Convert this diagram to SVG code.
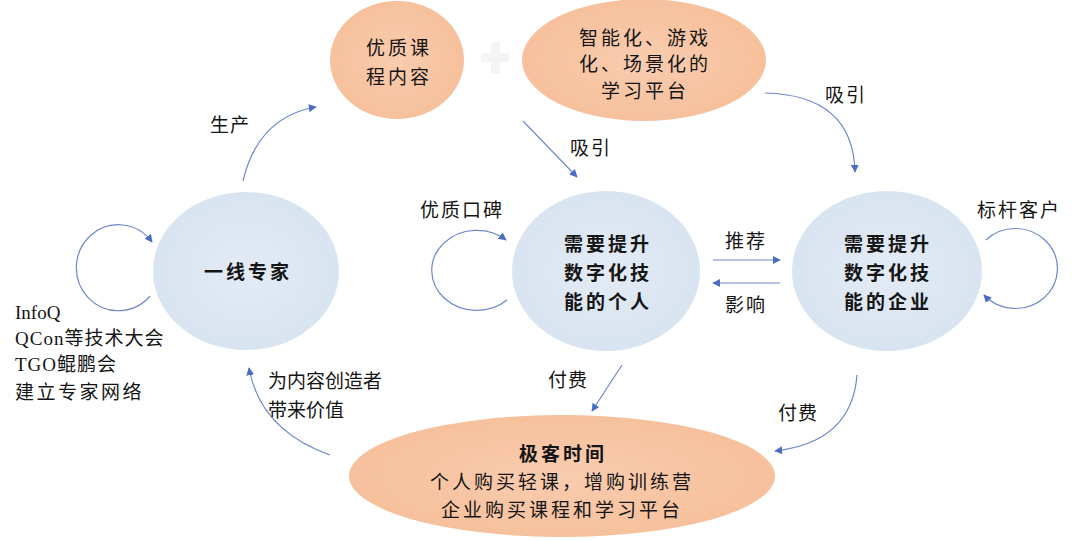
<svg xmlns="http://www.w3.org/2000/svg" width="1080" height="541" viewBox="0 0 1080 541">
<defs>
<radialGradient id="gb" cx="50%" cy="50%" r="55%">
<stop offset="0" stop-color="#e3ebf5"/>
<stop offset="1" stop-color="#d7e3f0"/>
</radialGradient>
<radialGradient id="go" cx="50%" cy="50%" r="55%">
<stop offset="0" stop-color="#f9ccaf"/>
<stop offset="1" stop-color="#f6bf9a"/>
</radialGradient>
<marker id="ah" viewBox="0 0 10 10" refX="9" refY="5" markerWidth="8" markerHeight="8" markerUnits="userSpaceOnUse" orient="auto">
<path d="M0,0 L10,5 L0,10 z" fill="#4a6cc4"/>
</marker>
<style>
.t{font-family:"Liberation Serif","Noto Sans CJK SC",serif;font-size:19px;fill:#151515}
.c{text-anchor:middle;letter-spacing:3px}
.b{font-weight:bold}
.e{stroke:#7086d0;stroke-width:1.2;fill:none;marker-end:url(#ah)}
</style>
</defs>
<rect width="1080" height="541" fill="#ffffff"/>
<g id="plus" fill="#f4f4f4">
<rect x="481" y="53" width="28" height="9"/>
<rect x="491" y="42" width="9" height="31"/>
</g>
<g id="connectors">
<path class="e" d="M243,181 Q258,117 316,107"/>
<path class="e" d="M523,121 L577,177"/>
<path class="e" d="M765,93 Q853,95 855,172"/>
<path class="e" d="M713,260 L780,260"/>
<path class="e" d="M780,283 L713,283"/>
<path class="e" d="M622,365 L592,411"/>
<path class="e" d="M857,375 Q852,442 775,451"/>
<path class="e" d="M330,455 Q260,430 249,368"/>
<path class="e" d="M150,296 A42,43 0 1 1 152,242"/>
<path class="e" d="M507,300 A45,40 0 1 1 506,240"/>
<path class="e" d="M986,240 A42,40 0 1 1 984,295"/>
</g>
<g id="n-expert">
<ellipse cx="246" cy="271" rx="93" ry="79" fill="url(#gb)"/>
<text class="t c b" x="248" y="279">一线专家</text>
</g>
<g id="n-content">
<ellipse cx="397" cy="60" rx="67" ry="59" fill="url(#go)"/>
<text class="t c" x="399" y="55">优质课</text>
<text class="t c" x="399" y="84">程内容</text>
</g>
<g id="n-platform">
<ellipse cx="644" cy="60" rx="122" ry="61" fill="url(#go)"/>
<text class="t c" x="645" y="45">智能化、游戏</text>
<text class="t c" x="645" y="71">化、场景化的</text>
<text class="t c" x="645" y="98">学习平台</text>
</g>
<g id="n-person">
<ellipse cx="606" cy="271" rx="94" ry="80" fill="url(#gb)"/>
<text class="t c b" x="608" y="251">需要提升</text>
<text class="t c b" x="608" y="280">数字化技</text>
<text class="t c b" x="608" y="309">能的个人</text>
</g>
<g id="n-company">
<ellipse cx="887" cy="271" rx="95" ry="80" fill="url(#gb)"/>
<text class="t c b" x="888" y="251">需要提升</text>
<text class="t c b" x="888" y="280">数字化技</text>
<text class="t c b" x="888" y="309">能的企业</text>
</g>
<g id="n-geektime">
<ellipse cx="562" cy="476" rx="213" ry="61" fill="url(#go)"/>
<text class="t c b" x="563" y="461">极客时间</text>
<text class="t c" x="562" y="489">个人购买轻课，增购训练营</text>
<text class="t c" x="562" y="517">企业购买课程和学习平台</text>
</g>
<g id="labels">
<text class="t" x="210" y="132" letter-spacing="1">生产</text>
<text class="t" x="570" y="155" letter-spacing="2">吸引</text>
<text class="t" x="825" y="102" letter-spacing="2">吸引</text>
<text class="t" x="420" y="217" letter-spacing="2">优质口碑</text>
<text class="t" x="977" y="217" letter-spacing="2">标杆客户</text>
<text class="t" x="725" y="248" letter-spacing="2">推荐</text>
<text class="t" x="725" y="312" letter-spacing="2">影响</text>
<text class="t" x="548" y="387" letter-spacing="1">付费</text>
<text class="t" x="778" y="420" letter-spacing="1">付费</text>
<text class="t" x="268" y="388">为内容创造者</text>
<text class="t" x="268" y="417">带来价值</text>
<text class="t" x="15" y="319" font-size="20">InfoQ</text>
<text class="t" x="15" y="345" font-size="20" letter-spacing="1">QCon等技术大会</text>
<text class="t" x="15" y="371" font-size="20" letter-spacing="1">TGO鲲鹏会</text>
<text class="t" x="15" y="399" font-size="20" letter-spacing="2.5">建立专家网络</text>
</g>
</svg>
